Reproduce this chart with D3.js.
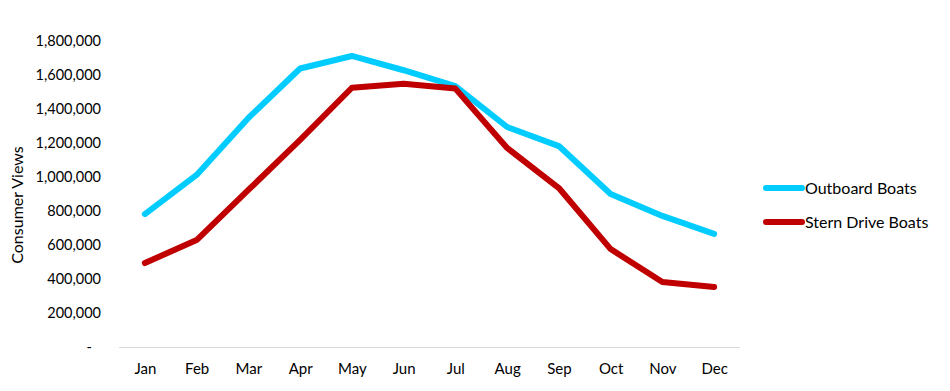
<html>
<head>
<title>Consumer Views</title>
<script src="https://d3js.org/d3.v7.min.js" charset="utf-8"></script>
<style>
body { margin: 0; background: white; font-family: "Lato", "Open Sans", sans-serif; }
.tick text { font-family: "Lato", "Open Sans", sans-serif; fill: #000; }
</style>
</head>
<body>
<script>
// data
var months = ["Jan","Feb","Mar","Apr","May","Jun","Jul","Aug","Sep","Oct","Nov","Dec"];
var outboard = [782000, 1012000, 1347000, 1638000, 1712000, 1628000, 1535000, 1294000, 1182000, 900000, 771000, 665000];
var sternDrive = [494000, 629000, 924000, 1218000, 1525000, 1548000, 1520000, 1171000, 935000, 576000, 382000, 353000];
var yTicks = [0, 200000, 400000, 600000, 800000, 1000000, 1200000, 1400000, 1600000, 1800000];

var series = [
  {name: "Outboard Boats", values: outboard, color: "#00CCFF"},
  {name: "Stern Drive Boats", values: sternDrive, color: "#C00000"}
];

var width = 950, height = 391;
var plotLeft = 119, plotRight = 740, plotTop = 41, plotBottom = 347;

var svg = d3.select("body").append("svg")
  .attr("width", width)
  .attr("height", height);

var x = d3.scalePoint().domain(months).range([plotLeft, plotRight]).padding(0.5);
var y = d3.scaleLinear().domain([0, 1800000]).range([plotBottom, plotTop]);

// y axis labels, no line
var fmt = d3.format(",");
var yAxis = svg.append("g")
  .attr("transform", "translate(" + plotLeft + ",0)")
  .call(d3.axisLeft(y).tickValues(yTicks).tickSize(0).tickPadding(18)
    .tickFormat(function(d){ return d === 0 ? "-" : fmt(d); }));
yAxis.select(".domain").remove();
yAxis.selectAll("text").style("font-size", "14.5px");
yAxis.selectAll(".tick").filter(function(d){ return d === 0; }).select("text")
  .attr("dx", -9);

// x axis
var xAxis = svg.append("g")
  .attr("transform", "translate(0," + plotBottom + ")")
  .call(d3.axisBottom(x).tickSize(0).tickPadding(16));
xAxis.select(".domain")
  .attr("d", "M" + plotLeft + ",0.5H" + plotRight)
  .attr("stroke", "#d9d9d9");
xAxis.selectAll("text").style("font-size", "15px");

// axis title
svg.append("text")
  .attr("transform", "translate(23,205) rotate(-90)")
  .attr("text-anchor", "middle")
  .style("font-size", "16px")
  .text("Consumer Views");

// lines
var line = d3.line()
  .x(function(d, i){ return x(months[i]); })
  .y(function(d){ return y(d); });

svg.selectAll(".series")
  .data(series)
  .enter()
  .append("path")
  .attr("class", "series")
  .attr("fill", "none")
  .attr("stroke", function(d){ return d.color; })
  .attr("stroke-width", 6)
  .attr("stroke-linejoin", "round")
  .attr("stroke-linecap", "round")
  .attr("d", function(d){ return line(d.values); });

// legend
var legend = svg.selectAll(".legend")
  .data(series)
  .enter()
  .append("g")
  .attr("class", "legend")
  .attr("transform", function(d, i){ return "translate(766," + (188 + i * 34) + ")"; });

legend.append("line")
  .attr("x1", 0).attr("x2", 36)
  .attr("stroke", function(d){ return d.color; })
  .attr("stroke-width", 6)
  .attr("stroke-linecap", "round");

legend.append("text")
  .attr("x", 39)
  .attr("dy", "0.35em")
  .style("font-size", "16px")
  .text(function(d){ return d.name; });
</script>
</body>
</html>
